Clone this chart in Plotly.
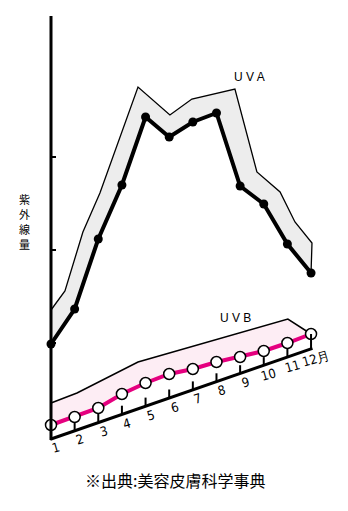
import plotly.graph_objects as go

# ---------------- data ----------------
months = [1, 2, 3, 4, 5, 6, 7, 8, 9, 10, 11, 12]
month_labels = ["1", "2", "3", "4", "5", "6", "7", "8", "9", "10", "11", "12月"]

# UVA (height above chart origin, arbitrary units)
uva = [94, 129, 199, 253, 321, 301, 316, 325, 252, 234, 194, 165]
# upper edge of the UVA ribbon
uva_top_x = [1.00, 1.59, 2.35, 3.07, 4.68, 6.03, 6.96, 8.78, 9.71, 10.69, 11.32, 12.04, 12.0]
uva_top_y = [128, 147, 206, 245, 351, 323, 339, 349, 266, 246, 216, 195, 165]

# UVB
uvb = [13, 21, 30, 44, 55, 64, 69, 76, 81, 87, 95, 104]
uvb_top_x = [1.0, 2.1, 4.68, 11.02, 12.0]
uvb_top_y = [35, 45, 76, 119, 104]

y_ticks = [95, 188, 281]
y_title_chars = ["紫", "外", "線", "量"]

# ---------------- layout constants ----------------
W, H = 348, 511
PX_PER_MONTH = 23.64
X0_PX = 51          # pixel x of month 1
Y0_PX = 438         # pixel y of origin
AXIS_SLOPE = 8.1    # rise of slanted axis per month
xr = [1 - X0_PX / PX_PER_MONTH, 1 + (W - X0_PX) / PX_PER_MONTH]
yr = [Y0_PX - H, Y0_PX]

def base(m):
    return AXIS_SLOPE * (m - 1)

fig = go.Figure()

# UVA ribbon fill
fig.add_trace(go.Scatter(
    x=uva_top_x + months[::-1], y=uva_top_y + uva[::-1],
    fill="toself", fillcolor="#ededed", mode="lines",
    line=dict(width=0), hoverinfo="skip", showlegend=False))
fig.add_trace(go.Scatter(
    x=uva_top_x, y=uva_top_y, mode="lines",
    line=dict(color="black", width=1.3), hoverinfo="skip", showlegend=False))

# UVB ribbon fill
fig.add_trace(go.Scatter(
    x=uvb_top_x + months[::-1], y=uvb_top_y + uvb[::-1],
    fill="toself", fillcolor="#fdedf4", mode="lines",
    line=dict(width=0), hoverinfo="skip", showlegend=False))
fig.add_trace(go.Scatter(
    x=uvb_top_x, y=uvb_top_y, mode="lines",
    line=dict(color="black", width=1.5), hoverinfo="skip", showlegend=False))

shapes = []
# vertical axis
shapes.append(dict(type="line", xref="x", yref="y", x0=1, x1=1, y0=-2, y1=422,
                   line=dict(color="black", width=3)))
tick_len = 5 / PX_PER_MONTH
for t in y_ticks:
    shapes.append(dict(type="line", xref="x", yref="y", x0=1, x1=1 + tick_len,
                       y0=t, y1=t, line=dict(color="black", width=2)))
# slanted horizontal axis
shapes.append(dict(type="line", xref="x", yref="y", x0=0.97, x1=12.06,
                   y0=base(0.97) - 1, y1=base(12.06),
                   line=dict(color="black", width=3)))
for m, v in zip(months[1:], uvb[1:]):
    top = v if m == 12 else base(m) + 8
    shapes.append(dict(type="line", xref="x", yref="y", x0=m, x1=m,
                       y0=base(m), y1=top, line=dict(color="black", width=2)))
fig.update_layout(shapes=shapes)

# UVA line
fig.add_trace(go.Scatter(
    x=months, y=uva, mode="lines+markers",
    line=dict(color="black", width=4),
    marker=dict(color="black", size=9),
    hoverinfo="skip", showlegend=False))
# UVB line
fig.add_trace(go.Scatter(
    x=months, y=uvb, mode="lines+markers",
    line=dict(color="#e5007f", width=4),
    marker=dict(color="white", size=11, line=dict(color="black", width=1.5)),
    hoverinfo="skip", showlegend=False))

ann = []
for m, lab in zip(months, month_labels):
    ann.append(dict(x=m + 0.21, y=base(m) - 9.5, xref="x", yref="y", text=lab,
                    showarrow=False, textangle=-16, xanchor="center", yanchor="middle",
                    font=dict(size=13, color="black",
                              family="Liberation Sans Narrow, DejaVu Sans Condensed, Liberation Sans, Arial")))
ann.append(dict(x=1 + (249 - X0_PX) / PX_PER_MONTH, y=Y0_PX - 77, xref="x", yref="y",
                text="U V A", showarrow=False,
                font=dict(size=12, color="black", family="Liberation Sans, Arial")))
ann.append(dict(x=1 + (235 - X0_PX) / PX_PER_MONTH, y=Y0_PX - 318, xref="x", yref="y",
                text="U V B", showarrow=False,
                font=dict(size=12, color="black", family="Liberation Sans, Arial")))
for i, ch in enumerate(y_title_chars):
    ann.append(dict(x=24 / W, y=1 - (199 + 15 * i) / H, xref="paper", yref="paper",
                    text=ch, showarrow=False, xanchor="center", yanchor="middle",
                    borderpad=0,
                    font=dict(size=11, color="black", family="Noto Sans CJK JP")))
ann.append(dict(x=175 / W, y=1 - 480 / H, xref="paper", yref="paper",
                text="※出典:美容皮膚科学事典", showarrow=False,
                xanchor="center", yanchor="middle",
                font=dict(size=16, color="black", family="Noto Sans CJK JP")))

fig.update_layout(
    annotations=ann,
    width=W, height=H,
    margin=dict(l=0, r=0, t=0, b=0),
    paper_bgcolor="white", plot_bgcolor="white",
    xaxis=dict(range=xr, visible=False, fixedrange=True),
    yaxis=dict(range=yr, visible=False, fixedrange=True),
)

fig.write_html("out.html")
